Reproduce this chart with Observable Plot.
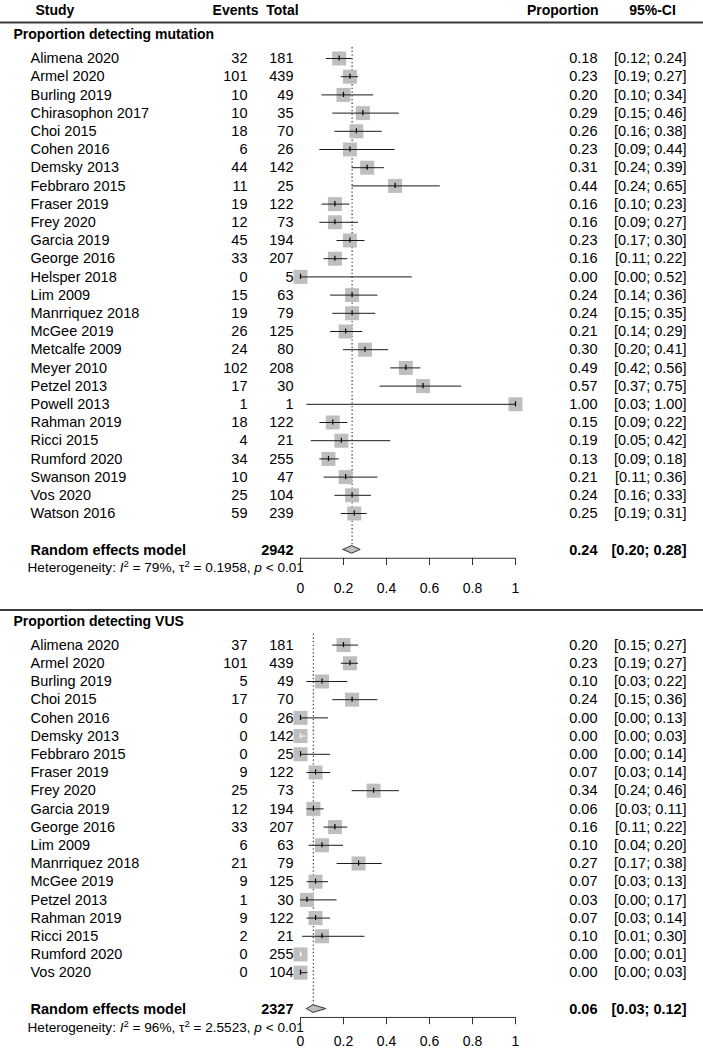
<!DOCTYPE html>
<html><head><meta charset="utf-8">
<script src="https://cdn.jsdelivr.net/npm/d3@7"></script>
<script src="https://cdn.jsdelivr.net/npm/@observablehq/plot@0.6"></script>
<style>
body{margin:0;background:#fff;}
#chart svg{display:block;}
</style></head><body><div id="chart"></div>
<script>
// ---------- data ----------
const headers = ["Study", "Events", "Total", "Proportion", "95%-CI"];
const sectionTitles = ["Proportion detecting mutation", "Proportion detecting VUS"];

const mutStudy = ["Alimena 2020","Armel 2020","Burling 2019","Chirasophon 2017","Choi 2015","Cohen 2016","Demsky 2013","Febbraro 2015","Fraser 2019","Frey 2020","Garcia 2019","George 2016","Helsper 2018","Lim 2009","Manrriquez 2018","McGee 2019","Metcalfe 2009","Meyer 2010","Petzel 2013","Powell 2013","Rahman 2019","Ricci 2015","Rumford 2020","Swanson 2019","Vos 2020","Watson 2016"];
const mutEvents = [32,101,10,10,18,6,44,11,19,12,45,33,0,15,19,26,24,102,17,1,18,4,34,10,25,59];
const mutTotal = [181,439,49,35,70,26,142,25,122,73,194,207,5,63,79,125,80,208,30,1,122,21,255,47,104,239];
const mutProp = [0.18,0.23,0.20,0.29,0.26,0.23,0.31,0.44,0.16,0.16,0.23,0.16,0.00,0.24,0.24,0.21,0.30,0.49,0.57,1.00,0.15,0.19,0.13,0.21,0.24,0.25];
const mutLower = [0.12,0.19,0.10,0.15,0.16,0.09,0.24,0.24,0.10,0.09,0.17,0.11,0.00,0.14,0.15,0.14,0.20,0.42,0.37,0.03,0.09,0.05,0.09,0.11,0.16,0.19];
const mutUpper = [0.24,0.27,0.34,0.46,0.38,0.44,0.39,0.65,0.23,0.27,0.30,0.22,0.52,0.36,0.35,0.29,0.41,0.56,0.75,1.00,0.22,0.42,0.18,0.36,0.33,0.31];

const vusStudy = ["Alimena 2020","Armel 2020","Burling 2019","Choi 2015","Cohen 2016","Demsky 2013","Febbraro 2015","Fraser 2019","Frey 2020","Garcia 2019","George 2016","Lim 2009","Manrriquez 2018","McGee 2019","Petzel 2013","Rahman 2019","Ricci 2015","Rumford 2020","Vos 2020"];
const vusEvents = [37,101,5,17,0,0,0,9,25,12,33,6,21,9,1,9,2,0,0];
const vusTotal = [181,439,49,70,26,142,25,122,73,194,207,63,79,125,30,122,21,255,104];
const vusProp = [0.20,0.23,0.10,0.24,0.00,0.00,0.00,0.07,0.34,0.06,0.16,0.10,0.27,0.07,0.03,0.07,0.10,0.00,0.00];
const vusLower = [0.15,0.19,0.03,0.15,0.00,0.00,0.00,0.03,0.24,0.03,0.11,0.04,0.17,0.03,0.00,0.03,0.01,0.00,0.00];
const vusUpper = [0.27,0.27,0.22,0.36,0.13,0.026,0.14,0.14,0.46,0.11,0.22,0.20,0.38,0.13,0.17,0.14,0.30,0.01,0.034];

const pooledLabel = "Random effects model";
const pooledTotal = [2942, 2327];
const pooledProp = [0.24, 0.06];
const pooledLower = [0.20, 0.03];
const pooledUpper = [0.28, 0.12];
const hetI2 = [79, 96];
const hetTau2 = ["0.1958", "2.5523"];
const hetP = ["< 0.01", "< 0.01"];

const tickValues = [0, 0.2, 0.4, 0.6, 0.8, 1];
const tickLabels = ["0", "0.2", "0.4", "0.6", "0.8", "1"];

// ---------- layout ----------
const W = 703, H = 1050;
const X0 = 300, X1 = 515;          // pixel positions of proportion 0 and 1
const FIRST = 58, ROW = 18.2;      // pixel position of first study row, row pitch
const SQ = 14;                     // square side in px
const halfSq = (SQ / 2) / (X1 - X0);
const sectionStarts = [0, 32.23];
const labelOffsets = [2.1, 1.8];

const fmt = v => v.toFixed(2);
const ci = (lo, hi) => `[${fmt(lo)}; ${fmt(hi)}]`;

const raw = [
  [mutStudy, mutEvents, mutTotal, mutProp, mutLower, mutUpper],
  [vusStudy, vusEvents, vusTotal, vusProp, vusLower, vusUpper]
];
const studies = [];
const sections = [];
raw.forEach(([st, ev, tot, pr, lo, hi], s) => {
  const start = sectionStarts[s];
  st.forEach((name, i) => {
    const inside = lo[i] >= pr[i] - halfSq && hi[i] <= pr[i] + halfSq;
    studies.push({study: name, events: ev[i], total: tot[i], prop: pr[i], lo: lo[i], hi: hi[i], row: start + i, inside});
  });
  const pooledRow = start + st.length + 1;
  sections.push({
    s, title: sectionTitles[s], titleRow: start - 1.3,
    start, pooledRow, hetRow: pooledRow + 1,
    axisRow: pooledRow + 0.46, labelRow: pooledRow + labelOffsets[s],
    total: pooledTotal[s], prop: pooledProp[s], lo: pooledLower[s], hi: pooledUpper[s]
  });
});
const headerRow = -2.64, headerRuleRow = -1.98;
const sepRow = sections[0].labelRow + 1.2;

const ticks = sections.flatMap(sec => tickValues.map((v, i) => ({v, label: tickLabels[i], axisRow: sec.axisRow, labelRow: sec.labelRow})));
const diamonds = sections.flatMap(sec => [
  {s: sec.s, x: sec.lo, y1: sec.pooledRow, y2: sec.pooledRow},
  {s: sec.s, x: sec.prop, y1: sec.pooledRow - 0.21, y2: sec.pooledRow + 0.21},
  {s: sec.s, x: sec.hi, y1: sec.pooledRow, y2: sec.pooledRow}
]);

const FS = 14.5;
const col = (data, opts) => Plot.text(data, {frameAnchor: "left", fontSize: FS, fill: "#000", ...opts});

const chart = Plot.plot({
  width: W, height: H,
  marginTop: 0, marginBottom: 0, marginLeft: 0, marginRight: 0,
  x: {domain: [0, 1], range: [X0, X1], axis: null},
  y: {type: "linear", domain: [0, 1], range: [FIRST, FIRST + ROW], axis: null},
  style: {fontFamily: "'Liberation Sans', Arial, Helvetica, sans-serif", fontSize: FS + "px", background: "#fff", color: "#000"},
  marks: [
    // rules
    Plot.ruleY([headerRuleRow, sepRow], {y: d => d, stroke: "#3a3a3a", strokeWidth: 2}),
    // headers
    col([headers[0]], {text: d => d, y: () => headerRow, dx: 35, textAnchor: "start", fontWeight: "bold", fontSize: 14}),
    col([headers[1]], {text: d => d, y: () => headerRow, dx: 235, textAnchor: "middle", fontWeight: "bold", fontSize: 14}),
    col([headers[2]], {text: d => d, y: () => headerRow, dx: 282, textAnchor: "middle", fontWeight: "bold", fontSize: 14}),
    col([headers[3]], {text: d => d, y: () => headerRow, dx: 598, textAnchor: "end", fontWeight: "bold", fontSize: 14}),
    col([headers[4]], {text: d => d, y: () => headerRow, dx: 652, textAnchor: "middle", fontWeight: "bold", fontSize: 14}),
    // section titles
    col(sections, {text: "title", y: "titleRow", dx: 13, textAnchor: "start", fontWeight: "bold", fontSize: 14}),
    // reference dotted line at pooled estimate
    Plot.ruleX(sections, {x: "prop", y1: d => d.start - 0.6, y2: d => d.pooledRow - 0.21, stroke: "#444", strokeWidth: 1.3, strokeDasharray: "1.3,2.4"}),
    // study squares
    Plot.dot(studies, {x: "prop", y: "row", symbol: "square", r: SQ / Math.sqrt(Math.PI), fill: "#BEBEBE", stroke: "none"}),
    // CI lines and estimate ticks
    Plot.ruleY(studies.filter(d => !d.inside), {y: "row", x1: "lo", x2: "hi", stroke: "#1a1a1a", strokeWidth: 1}),
    Plot.ruleX(studies.filter(d => !d.inside), {x: "prop", y1: d => d.row - 0.14, y2: d => d.row + 0.14, stroke: "#000", strokeWidth: 1.2}),
    Plot.ruleY(studies.filter(d => d.inside), {y: "row", x1: "lo", x2: "hi", stroke: "#fff", strokeWidth: 1}),
    Plot.ruleX(studies.filter(d => d.inside), {x: "prop", y1: d => d.row - 0.14, y2: d => d.row + 0.14, stroke: "#fff", strokeWidth: 1.2}),
    // diamonds
    Plot.areaY(diamonds, {x: "x", y1: "y1", y2: "y2", z: "s", fill: "#BEBEBE", stroke: "#333", strokeWidth: 1}),
    // study text columns
    col(studies, {text: "study", y: "row", dx: 30, textAnchor: "start"}),
    col(studies, {text: d => String(d.events), y: "row", dx: 247, textAnchor: "end"}),
    col(studies, {text: d => String(d.total), y: "row", dx: 293, textAnchor: "end"}),
    col(studies, {text: d => fmt(d.prop), y: "row", dx: 597, textAnchor: "end"}),
    col(studies, {text: d => ci(d.lo, d.hi), y: "row", dx: 686, textAnchor: "end"}),
    // pooled rows
    col(sections, {text: () => pooledLabel, y: "pooledRow", dx: 30, textAnchor: "start", fontWeight: "bold"}),
    col(sections, {text: d => String(d.total), y: "pooledRow", dx: 293, textAnchor: "end", fontWeight: "bold"}),
    col(sections, {text: d => fmt(d.prop), y: "pooledRow", dx: 597, textAnchor: "end", fontWeight: "bold"}),
    col(sections, {text: d => ci(d.lo, d.hi), y: "pooledRow", dx: 686, textAnchor: "end", fontWeight: "bold"}),
    col(sections, {text: () => "Heterogeneity", y: "hetRow", dx: 27, textAnchor: "start", fontSize: 13.6}),
    // axes
    Plot.ruleY(sections, {y: "axisRow", x1: () => 0, x2: () => 1, stroke: "#333", strokeWidth: 1}),
    Plot.ruleX(ticks, {x: "v", y1: "axisRow", y2: d => d.axisRow + 0.4, stroke: "#333", strokeWidth: 1}),
    Plot.text(ticks, {x: "v", y: "labelRow", text: "label", fontSize: 14, fill: "#000"})
  ]
});

// rich heterogeneity text (italic I / p, superscripts)
d3.select(chart).selectAll("text").filter(function() { return this.textContent === "Heterogeneity"; })
  .each(function(_, i) {
    const t = d3.select(this).text(null);
    t.append("tspan").text("Heterogeneity: ");
    t.append("tspan").attr("font-style", "italic").text("I");
    t.append("tspan").attr("dy", -5).attr("font-size", "9.5px").text("2");
    t.append("tspan").attr("dy", 5).text(` = ${hetI2[i]}%, \u03C4`);
    t.append("tspan").attr("dy", -5).attr("font-size", "9.5px").text("2");
    t.append("tspan").attr("dy", 5).text(` = ${hetTau2[i]}, `);
    t.append("tspan").attr("font-style", "italic").text("p");
    t.append("tspan").text(` ${hetP[i]}`);
  });

document.getElementById("chart").appendChild(chart);
</script>
</body></html>
